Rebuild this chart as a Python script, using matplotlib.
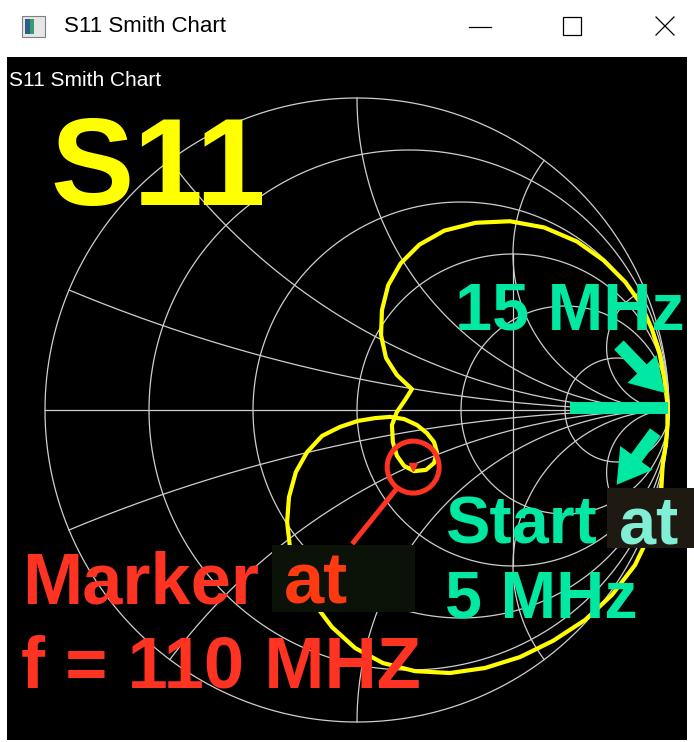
import numpy as np
import matplotlib.pyplot as plt
from matplotlib.patches import Circle, Rectangle, FancyArrowPatch

# S11 trace (reflection coefficient), 5 MHz onwards
gamma_re = [0.99, 0.995, 0.995, 0.985, 0.97, 0.945, 0.91, 0.86, 0.79, 0.705,
            0.60, 0.49, 0.38, 0.28, 0.20, 0.14, 0.10, 0.08, 0.077, 0.093,
            0.128, 0.176, 0.154, 0.128, 0.112, 0.115, 0.128, 0.151, 0.183, 0.221,
            0.247, 0.256, 0.247, 0.224, 0.192, 0.151, 0.106, 0.058, 0.003, -0.054,
            -0.112, -0.160, -0.196, -0.218, -0.224, -0.215, -0.186, -0.141, -0.080, -0.006,
            0.083, 0.186, 0.298, 0.410, 0.522, 0.628, 0.731, 0.817, 0.891, 0.942,
            0.974, 0.98, 0.99]
gamma_im = [-0.11, -0.05, 0.02, 0.10, 0.18, 0.26, 0.34, 0.41, 0.48, 0.54,
            0.585, 0.605, 0.60, 0.575, 0.53, 0.47, 0.40, 0.32, 0.24, 0.167,
            0.112, 0.067, 0.032, -0.006, -0.048, -0.103, -0.147, -0.179, -0.196, -0.192,
            -0.170, -0.135, -0.103, -0.074, -0.048, -0.029, -0.022, -0.026, -0.035, -0.054,
            -0.083, -0.135, -0.199, -0.279, -0.359, -0.439, -0.529, -0.615, -0.696, -0.763,
            -0.811, -0.837, -0.843, -0.827, -0.792, -0.740, -0.673, -0.593, -0.497, -0.391,
            -0.279, -0.17, -0.11]

# marker at 110 MHz
marker_re, marker_im = 0.180, -0.183

# smith chart grid
r_grid = [0.2, 0.5, 1, 2, 5]
x_grid = [0.2, 0.5, 1, 2, 5]

W, H = 694, 742
CX, CY, RPX = 357, 410, 312          # chart centre / radius in pixels
PANEL = (7, 57, 687, 740)            # black area: left, top, right, bottom

GRID = '#cfcfcf'
YEL = '#ffff00'
GREEN = '#00e8a2'
RED = '#ff3322'
FONT = 'Liberation Sans'

fig = plt.figure(figsize=(W / 100, H / 100), dpi=100)
fig.patch.set_facecolor('white')

# smith chart axes, scaled so 1 unit of gamma = RPX pixels
l, t, r, b = PANEL
ax = fig.add_axes([l / W, (H - b) / H, (r - l) / W, (b - t) / H])
ax.set_facecolor('black')
ax.set_xlim((l - CX) / RPX, (r - CX) / RPX)
ax.set_ylim((CY - b) / RPX, (CY - t) / RPX)
ax.set_xticks([])
ax.set_yticks([])
for s in ax.spines.values():
    s.set_visible(False)

th = np.linspace(0, 2 * np.pi, 721)
ax.plot(np.cos(th), np.sin(th), color=GRID, lw=0.9)
ax.plot([-1, 1], [0, 0], color=GRID, lw=0.9)
for rv in r_grid:
    c, rad = rv / (1 + rv), 1 / (1 + rv)
    ax.plot(c + rad * np.cos(th), rad * np.sin(th), color=GRID, lw=0.9)
rr = np.concatenate([[0], np.logspace(-3, 3, 800)])
for xv in x_grid:
    for sgn in (1, -1):
        z = rr + 1j * sgn * xv
        g = (z - 1) / (z + 1)
        ax.plot(g.real, g.imag, color=GRID, lw=0.9)
ax.plot([0.5, 0.5], [-0.5, 0.5], color=GRID, lw=0.9)

# trace
ax.plot(gamma_re, gamma_im, color=YEL, lw=3.0, solid_joinstyle='round', zorder=5)

# marker
ax.plot([marker_re], [marker_im], marker='v', ms=6, color=RED, zorder=7)
mrad = 26 / RPX
ax.add_patch(Circle((marker_re, marker_im), mrad, fill=False, ec=RED, lw=3.6, zorder=7))
ang = np.arctan2(-0.25, -0.19)
x0, y0 = marker_re + mrad * np.cos(ang), marker_im + mrad * np.sin(ang)
ax.plot([x0, x0 - 0.145], [y0, y0 - 0.18], color=RED, lw=3.6, zorder=7,
        solid_capstyle='butt')

# overlay in pixel coordinates for window frame and annotations
ov = fig.add_axes([0, 0, 1, 1], facecolor='none')
ov.set_xlim(0, W)
ov.set_ylim(H, 0)
ov.axis('off')

# title bar
ov.add_patch(Rectangle((22, 16), 23, 21, fc='#e6e6e6', ec='#808080', lw=0.8))
ov.add_patch(Rectangle((25, 19), 5, 15, fc='#2d5f86', ec='none'))
ov.add_patch(Rectangle((30, 19), 4, 15, fc='#3c9a72', ec='none'))
ov.text(64, 27, 'S11 Smith Chart', fontsize=16, family=FONT, color='black', va='center')
ov.plot([469, 491], [27, 27], color='black', lw=0.9)
ov.add_patch(Rectangle((563, 17), 18, 18, fill=False, ec='black', lw=0.9))
ov.plot([656, 674], [17, 35], color='black', lw=0.9)
ov.plot([656, 674], [35, 17], color='black', lw=0.9)

# small caption inside the panel
ov.text(9, 80, 'S11 Smith Chart', fontsize=15, family=FONT, color='white', va='center')

# annotations
ov.text(50, 205, 'S11', fontsize=90, family=FONT, weight='bold', color=YEL)

ov.text(455, 330, '15 MHz', fontsize=48, family=FONT, weight='bold', color=GREEN)
ov.add_patch(FancyArrowPatch((617, 343), (667, 395), arrowstyle='simple,head_length=2.4,head_width=2.9,tail_width=0.95',
                             mutation_scale=10, color=GREEN, lw=0))
ov.plot([570, 668], [408, 408], color=GREEN, lw=8.6, solid_capstyle='butt')
ov.add_patch(FancyArrowPatch((657, 430), (615, 487), arrowstyle='simple,head_length=2.4,head_width=2.9,tail_width=0.95',
                             mutation_scale=10, color=GREEN, lw=0))

ov.add_patch(Rectangle((607, 488), 87, 60, fc='#1e1a12', ec='none'))
ov.text(445, 543, 'Start', fontsize=48, family=FONT, weight='bold', color=GREEN)
ov.text(619, 543, 'at', fontsize=48, family=FONT, weight='bold', color='#80efd6')
ov.text(445, 617, '5 MHz', fontsize=48, family=FONT, weight='bold', color=GREEN)

ov.add_patch(Rectangle((272, 545), 143, 67, fc='#0b1309', ec='none'))
ov.text(22, 603, 'Marker', fontsize=52, family=FONT, weight='bold', color=RED)
ov.text(284, 603, 'at', fontsize=52, family=FONT, weight='bold', color='#ff3a10')
ov.text(21, 687, 'f = 110 MHZ', fontsize=52, family=FONT, weight='bold', color=RED)

fig.savefig('out.png', dpi=100)
